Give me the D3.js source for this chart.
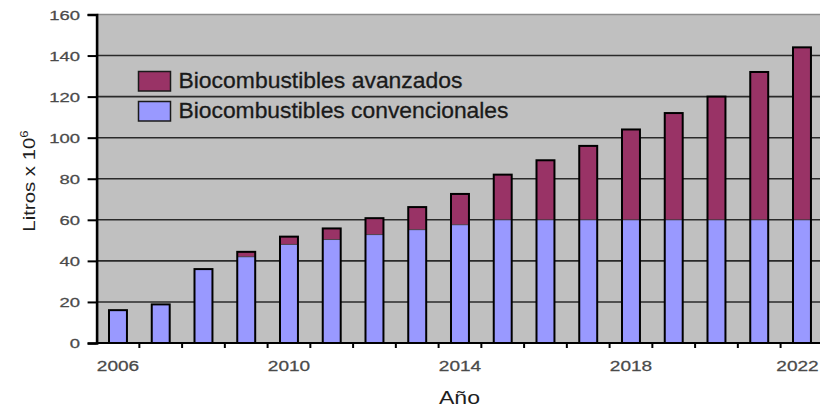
<!DOCTYPE html>
<html>
<head>
<meta charset="utf-8">
<script src="https://cdn.jsdelivr.net/npm/d3@7"></script>
<style>
  html, body { margin: 0; padding: 0; background: #fff; }
  svg { display: block; font-family: "Liberation Sans", Arial, sans-serif; }
</style>
</head>
<body>
<svg id="chart" width="820" height="409"></svg>
<script>
// Annual volumes (litres x 10^6), stacked: conventional at the bottom, advanced on top
const years = [2006, 2007, 2008, 2009, 2010, 2011, 2012, 2013, 2014, 2015, 2016, 2017, 2018, 2019, 2020, 2021, 2022];
const convencionales = [16, 18.8, 36, 42, 48, 50.4, 52.8, 55.2, 57.6, 60, 60, 60, 60, 60, 60, 60, 60];
const avanzados = [0, 0, 0, 2.4, 3.8, 5.4, 8, 11, 15, 22, 29, 36, 44, 52, 60, 72, 84];
const yTicks = [0, 20, 40, 60, 80, 100, 120, 140, 160];
const xLabelYears = [2006, 2010, 2014, 2018, 2022];
const seriesNames = ["Biocombustibles avanzados", "Biocombustibles convencionales"];
const seriesColors = { avanzados: "#993366", convencionales: "#9999FF" };

const svg = d3.select("#chart");
const W = 820;

const plotLeft = 96.6, plotTop = 14.5, plotBottom = 343;
const step = 42.75;
const plotRight = plotLeft + step * years.length;

const x = d3.scaleBand()
  .domain(years)
  .range([plotLeft, plotRight])
  .paddingInner(0.58)
  .paddingOuter(0.29);

const y = d3.scaleLinear().domain([0, 160]).range([plotBottom, plotTop]);

// Plot area background
svg.append("rect")
  .attr("x", plotLeft).attr("y", plotTop)
  .attr("width", plotRight - plotLeft).attr("height", plotBottom - plotTop)
  .attr("fill", "#C0C0C0");

// Horizontal gridlines
svg.append("g")
  .selectAll("line")
  .data(yTicks.filter(t => t > 0))
  .join("line")
  .attr("x1", plotLeft).attr("x2", plotRight)
  .attr("y1", d => y(d)).attr("y2", d => y(d))
  .attr("stroke", d => d === 160 ? "#8c8c8c" : "#2a2a2a")
  .attr("stroke-width", d => d === 160 ? 1.5 : 1.6);

// Stacked bars
const rows = years.map((yr, i) => ({ year: yr, conv: convencionales[i], adv: avanzados[i] }));
const bars = svg.append("g");
const bw = x.bandwidth();

rows.forEach(r => {
  const g = bars.append("g");
  const x0 = x(r.year);
  // conventional segment
  g.append("rect")
    .attr("x", x0).attr("y", y(r.conv))
    .attr("width", bw).attr("height", y(0) - y(r.conv))
    .attr("fill", seriesColors.convencionales);
  if (r.adv > 0) {
    g.append("rect")
      .attr("x", x0).attr("y", y(r.conv + r.adv))
      .attr("width", bw).attr("height", y(r.conv) - y(r.conv + r.adv))
      .attr("fill", seriesColors.avanzados);
    // thin seam between segments
    g.append("line")
      .attr("x1", x0).attr("x2", x0 + bw)
      .attr("y1", y(r.conv)).attr("y2", y(r.conv))
      .attr("stroke", "#3a3a3a").attr("stroke-width", 0.8);
  }
  // outline of the whole column
  g.append("rect")
    .attr("x", x0).attr("y", y(r.conv + r.adv))
    .attr("width", bw).attr("height", y(0) - y(r.conv + r.adv))
    .attr("fill", "none")
    .attr("stroke", "#000").attr("stroke-width", 2);
});

// Y axis
const yAxis = svg.append("g")
  .attr("transform", `translate(${plotLeft},0)`)
  .call(d3.axisLeft(y).tickValues(yTicks).tickSize(9).tickPadding(0));
yAxis.select(".domain").attr("stroke", "#000").attr("stroke-width", 2.6);
yAxis.selectAll(".tick line").attr("stroke", "#000").attr("stroke-width", 2);
yAxis.selectAll(".tick text")
  .attr("x", null).attr("dy", null)
  .attr("text-anchor", "end")
  .attr("font-size", 13)
  .attr("fill", "#4a4a4a")
  .attr("stroke", "#4a4a4a").attr("stroke-width", 0.25)
  .attr("transform", "translate(-16.6,4.6) scale(1.42,1)");

// X axis: ticks on category boundaries, labels every four years
const xAxisG = svg.append("g");
xAxisG.append("line")
  .attr("x1", plotLeft).attr("x2", plotRight)
  .attr("y1", plotBottom).attr("y2", plotBottom)
  .attr("stroke", "#000").attr("stroke-width", 2);
xAxisG.selectAll("line.tk")
  .data(years.slice(1))
  .join("line")
  .attr("class", "tk")
  .attr("x1", d => x(d) - x.step() * x.paddingInner() / 2)
  .attr("x2", d => x(d) - x.step() * x.paddingInner() / 2)
  .attr("y1", plotBottom).attr("y2", plotBottom + 5)
  .attr("stroke", "#000").attr("stroke-width", 2);
const xLabelHalf = 21.5; // half the drawn width of a year label
xAxisG.selectAll("text")
  .data(xLabelYears)
  .join("text")
  .attr("transform", d => {
    const cx = Math.min(x(d) + bw / 2, W - 1 - xLabelHalf);
    return `translate(${cx},370.5) scale(1.36,1)`;
  })
  .attr("text-anchor", "middle")
  .attr("font-size", 14)
  .attr("fill", "#4a4a4a")
  .attr("stroke", "#4a4a4a").attr("stroke-width", 0.25)
  .text(d => d);

// Axis titles
svg.append("text")
  .attr("x", 459.5).attr("y", 404)
  .attr("text-anchor", "middle")
  .attr("font-size", 19)
  .attr("fill", "#1e1e1e")
  .attr("textLength", 41)
  .attr("lengthAdjust", "spacingAndGlyphs")
  .text("Año");

const yTitle = svg.append("text")
  .attr("transform", "translate(35,181) rotate(-90) scale(1.2,1)")
  .attr("text-anchor", "middle")
  .attr("font-size", 17)
  .attr("fill", "#1e1e1e");
yTitle.append("tspan").text("Litros x 10");
yTitle.append("tspan").attr("font-size", 11).attr("dy", -7).text("6");

// Legend
const legend = svg.append("g");
const legendItems = [
  { name: seriesNames[0], color: seriesColors.avanzados, y: 71.5, len: 284 },
  { name: seriesNames[1], color: seriesColors.convencionales, y: 101.5, len: 330 }
];
legendItems.forEach(it => {
  legend.append("rect")
    .attr("x", 138.5).attr("y", it.y)
    .attr("width", 32).attr("height", 19.5)
    .attr("fill", it.color)
    .attr("stroke", "#1a1a1a").attr("stroke-width", 1.5);
  legend.append("text")
    .attr("x", 178.5).attr("y", it.y + 16.8)
    .attr("font-size", 22)
    .attr("fill", "#1a1a1a")
    .attr("stroke", "#1a1a1a").attr("stroke-width", 0.3)
    .attr("textLength", it.len)
    .attr("lengthAdjust", "spacingAndGlyphs")
    .text(it.name);
});
</script>
</body>
</html>
